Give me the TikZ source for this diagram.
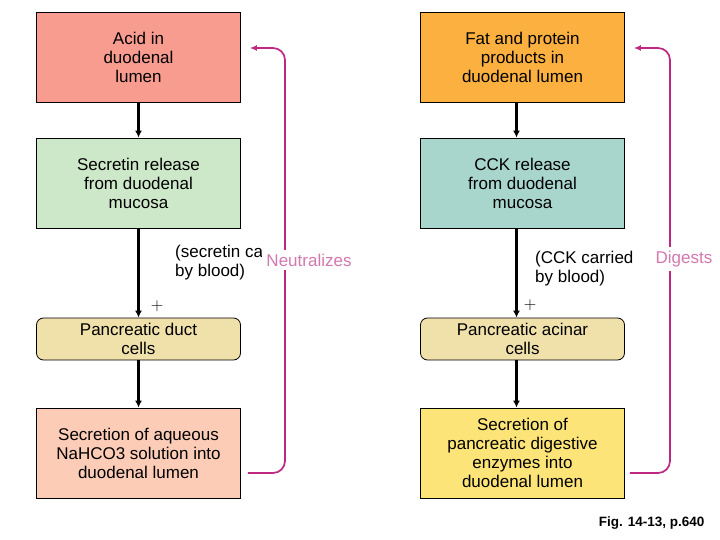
\documentclass[tikz,border=0pt]{standalone}
\usepackage{fontspec}
\setmainfont{Liberation Sans}
\usepackage{tikz}
\usetikzlibrary{calc, positioning, arrows.meta}
\definecolor{acid}{RGB}{248,156,144}
\definecolor{secretin}{RGB}{205,232,200}
\definecolor{cell}{RGB}{240,224,170}
\definecolor{aqueous}{RGB}{252,204,182}
\definecolor{fat}{RGB}{251,176,64}
\definecolor{cck}{RGB}{168,214,204}
\definecolor{enzyme}{RGB}{253,228,120}
\definecolor{loop}{RGB}{190,40,130}
\definecolor{loopText}{RGB}{212,120,176}
\tikzstyle{Box}=[draw, line width=0.8pt, minimum width=204pt, minimum height=90pt, align=center, font=\fontsize{17}{19}\selectfont]
\tikzstyle{Cell}=[Box, rounded corners=7pt, minimum height=42pt, fill=cell]
\tikzstyle{Feed}=[draw, -{Latex[length=7pt,width=7pt]}, line width=2.1pt]
\tikzstyle{Loop}=[-{Latex[length=7pt,width=6pt]}, draw=loop, line width=1.7pt, rounded corners=12pt]
\tikzstyle{Note}=[align=left, inner sep=0pt, font=\fontsize{17}{19}\selectfont]
\tikzstyle{Effect}=[fill=white, inner sep=4pt, text=loopText, font=\fontsize{17}{19}\selectfont]

\begin{document}
\begin{tikzpicture}[x=1pt, y=-1pt]
			\useasboundingbox (0, 0) rectangle (720, 540);
			\node[Box, fill=acid] (1) at (138.5, 57) {Acid in\\duodenal\\lumen};
			\node[Box, fill=secretin] (2) at (138.5, 183) {Secretin release\\from duodenal\\mucosa};
			\node[Cell] (3) at (138.5, 339) {Pancreatic duct\\cells};
			\node[Box, fill=aqueous] (4) at (138.5, 453) {Secretion of aqueous\\NaHCO3 solution into\\duodenal lumen};
			\node[Box, fill=fat] (5) at (522.5, 57) {Fat and protein\\products in\\duodenal lumen};
			\node[Box, fill=cck] (6) at (522.5, 183) {CCK release\\from duodenal\\mucosa};
			\node[Cell] (7) at (522.5, 339) {Pancreatic acinar\\cells};
			\node[Box, fill=enzyme] (8) at (522.5, 453) {Secretion of\\pancreatic digestive\\enzymes into\\duodenal lumen};
			\path (1) edge[Feed] (2) (2) edge[Feed] (3) (3) edge[Feed] (4)
			([xshift=-6pt]5.south) edge[Feed] ([xshift=-6pt]6.north)
			([xshift=-6pt]6.south) edge[Feed] ([xshift=-6pt]7.north)
			([xshift=-6pt]7.south) edge[Feed] ([xshift=-6pt]8.north)
			;

			\coordinate (a) at (285, 260);
			\coordinate (b) at (670, 260);
			\draw[Loop] ([xshift=7pt, yshift=-20pt]4.east) -| (a) |- ([xshift=9pt, yshift=9pt]1.east);
			\draw[Loop] ([xshift=5pt, yshift=-20pt]8.east) -| (b) |- ([xshift=9pt, yshift=9pt]5.east);

			\node[Note, anchor=west] (s) at (175, 262.5) {(secretin ca\\by blood)};
			\node[Note, anchor=west] (c) at (535, 268.5) {(CCK carried\\by blood)};
			\node[Effect] (n) at (309, 260) {Neutralizes};
			\node[Effect] (d) at (684, 259) {Digests};
			\node[font=\fontsize{17}{17}\selectfont] (p) at (157, 306) {$+$};
			\node[font=\fontsize{17}{17}\selectfont] (q) at (530, 305) {$+$};
			\node[anchor=east, font=\bfseries\fontsize{13.5}{15}\selectfont] (f) at (708, 523) {Fig. 14-13, p.640};
\end{tikzpicture}
\end{document}
